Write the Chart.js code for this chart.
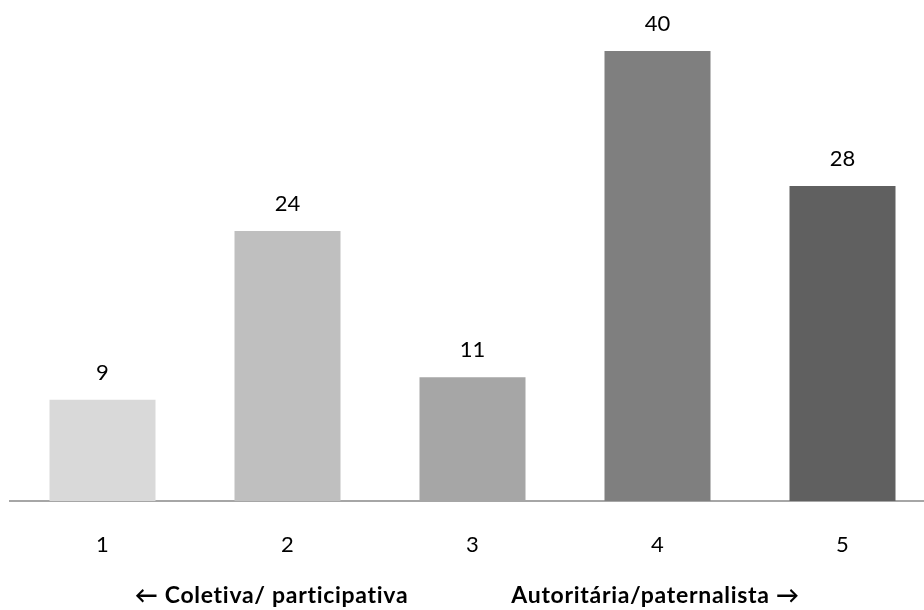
<!DOCTYPE html>
<html>
<head>
<meta charset="utf-8">
<script src="https://cdn.jsdelivr.net/npm/chart.js@4/dist/chart.umd.min.js"></script>
<style>
  html, body { margin: 0; padding: 0; background: #ffffff; overflow: hidden; }
  #wrap { width: 935px; height: 610px; position: relative; }
</style>
</head>
<body>
<div id="wrap"><canvas id="chart"></canvas></div>
<script>
// Scale points (1 = collective/participative ... 5 = authoritarian/paternalist)
const categories = ['1', '2', '3', '4', '5'];
const counts = [9, 24, 11, 40, 28];
const barColors = ['#d9d9d9', '#bfbfbf', '#a6a6a6', '#7f7f7f', '#606060'];
// Secondary captions under the scale, placed under points 2 and 4
const scaleCaptions = ['', '\u2190 Coletiva/ participativa', '', 'Autorit\u00e1ria/paternalista \u2192', ''];

const FONT = 'Lato, "Open Sans", "DejaVu Sans", sans-serif';

// Value printed above each bar
const valueLabels = {
  id: 'valueLabels',
  afterDatasetsDraw(chart) {
    const ctx = chart.ctx;
    const meta = chart.getDatasetMeta(0);
    ctx.save();
    ctx.font = '22px ' + FONT;
    ctx.fillStyle = '#000000';
    ctx.textAlign = 'center';
    ctx.textBaseline = 'alphabetic';
    meta.data.forEach((bar, i) => {
      ctx.fillText(String(chart.data.datasets[0].data[i]), bar.x, bar.y - 20);
    });
    ctx.restore();
  }
};

// Bold captions below the tick labels
const captions = {
  id: 'captions',
  afterDraw(chart) {
    const ctx = chart.ctx;
    const xs = chart.scales.x;
    ctx.save();
    ctx.font = 'bold 23px ' + FONT;
    ctx.letterSpacing = '0.7px';
    ctx.fillStyle = '#000000';
    ctx.textAlign = 'center';
    ctx.textBaseline = 'alphabetic';
    scaleCaptions.forEach((t, i) => {
      if (!t) return;
      const shift = i === 1 ? -16 : -2;
      ctx.fillText(t, xs.getPixelForValue(i) + shift, 603);
    });
    ctx.restore();
  }
};

new Chart(document.getElementById('chart'), {
  type: 'bar',
  data: {
    labels: categories,
    datasets: [{
      data: counts,
      backgroundColor: barColors,
      borderWidth: 0,
      barPercentage: 0.573,
      categoryPercentage: 1.0
    }]
  },
  options: {
    responsive: true,
    maintainAspectRatio: false,
    animation: false,
    devicePixelRatio: 1,
    layout: { padding: { left: 10, right: 0, top: 51, bottom: 0 } },
    plugins: {
      legend: { display: false },
      tooltip: { enabled: false },
      title: { display: false }
    },
    scales: {
      x: {
        offset: true,
        grid: { display: false, drawTicks: false },
        border: { display: true, color: '#a6a6a6', width: 2 },
        ticks: {
          color: '#000000',
          font: { family: FONT, size: 22 },
          padding: 31
        },
        afterFit(scale) { scale.height = 109; }
      },
      y: {
        display: false,
        min: 0,
        max: 40,
        grid: { display: false }
      }
    }
  },
  plugins: [valueLabels, captions]
});
</script>
</body>
</html>
